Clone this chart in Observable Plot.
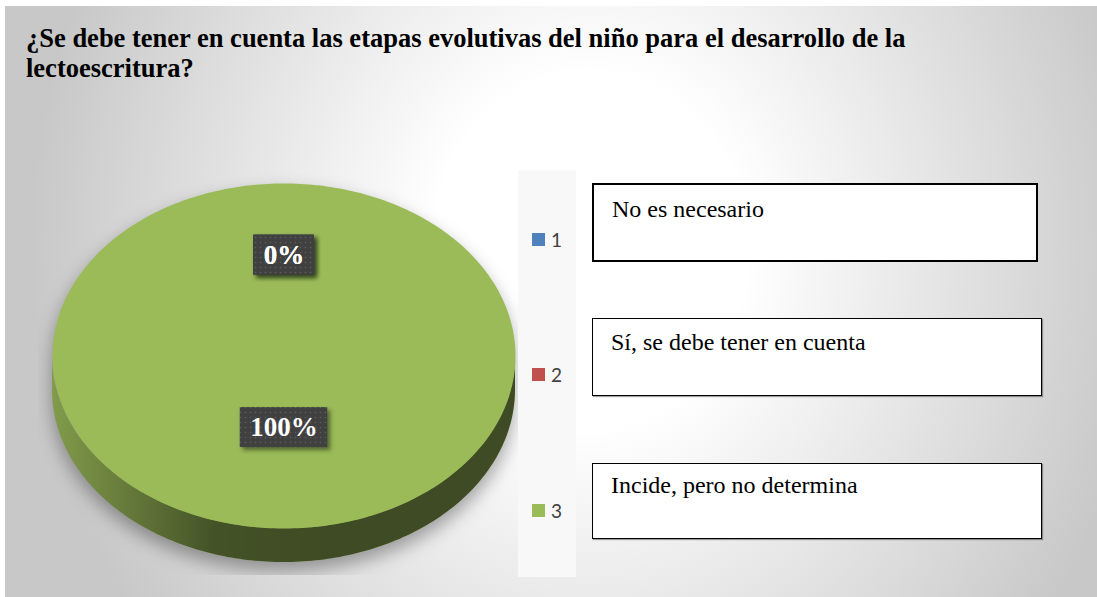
<!DOCTYPE html>
<html>
<head>
<meta charset="utf-8">
<script src="https://cdn.jsdelivr.net/npm/d3@7"></script>
<script src="https://cdn.jsdelivr.net/npm/@observablehq/plot@0.6"></script>
<style>
  html, body { margin: 0; padding: 0; background: #fff; }
  #chart { position: relative; width: 1097px; height: 597px; overflow: hidden; background: #fff; }
  #panel { position: absolute; left: 5px; top: 6px; width: 1092px; height: 591px;
    background: radial-gradient(ellipse 560px 630px at 585px 244px, #ffffff 0%, #ffffff 28%, #c8c8c8 100%); }
  #title { position: absolute; left: 26px; top: 23px; width: 960px; font-family: "Liberation Serif", "Times New Roman", serif;
    font-weight: bold; font-size: 26.5px; line-height: 30px; color: #000; }
  #plot { position: absolute; left: 38px; top: 150px; }
  #legend { position: absolute; left: 518px; top: 170px; width: 58px; height: 407px; background: #f8f8f8; }
  .item { position: absolute; left: 14px; height: 22px; display: flex; align-items: center;
    font-family: Lato, "Open Sans", sans-serif; font-size: 19px; color: #404040; }
  .sw { width: 13px; height: 13px; margin-right: 6px; }
  .box { position: absolute; box-sizing: border-box; background: #fff; font-family: "Liberation Serif", "Times New Roman", serif;
    font-size: 24px; line-height: 24px; color: #000; padding-left: 18px; white-space: nowrap; }
</style>
</head>
<body>
<div id="chart">
  <div id="panel"></div>
  <div id="title"></div>
  <div id="plot"></div>
  <div id="legend"></div>
</div>
<script>
// ---- data ----
const title = "¿Se debe tener en cuenta las etapas evolutivas del niño para el desarrollo de la lectoescritura?";
const categories = ["1", "2", "3"];
const values = [0, 0, 100];
const answers = ["No es necesario", "Sí, se debe tener en cuenta", "Incide, pero no determina"];
const colors = ["#4F81BD", "#C0504D", "#9BBB59"];

// ---- layout / style constants ----
const depth = 0.197;          // pie thickness in radius units
const labelRadius = 0.5;      // label distance from the (perspective) centre
const labelCenterY = -0.085;  // perspective centre of the top face
const boxLayout = [
  {top: 183, w: 446, h: 79, b: 2, pt: 12},
  {top: 318, w: 450, h: 78, b: 1, pt: 11},
  {top: 463, w: 450, h: 76, b: 1, pt: 9}
];

document.getElementById("title").textContent = title;

const data = categories.map((c, i) => ({cat: c, value: values[i]}));
const total = d3.sum(values);
const arcs = d3.pie().sort(null).value(d => d.value)(data);
const step = Math.PI / 180;

// top faces
const topFace = [];
arcs.forEach(a => {
  const cat = a.data.cat;
  const n = Math.max(1, Math.ceil((a.endAngle - a.startAngle) / step));
  topFace.push({cat, x: 0, y: 0});
  for (let k = 0; k <= n; k++) {
    const t = a.startAngle + (a.endAngle - a.startAngle) * k / n;
    topFace.push({cat, x: Math.sin(t), y: -Math.cos(t)});
  }
  topFace.push({cat, x: 0, y: 0});
});

// front walls (visible half: angles PI/2 .. 3PI/2)
const wall = [];
arcs.forEach(a => {
  const s = Math.max(a.startAngle, Math.PI / 2), e = Math.min(a.endAngle, 3 * Math.PI / 2);
  if (e <= s) return;
  const n = Math.max(1, Math.ceil((e - s) / step));
  for (let k = 0; k <= n; k++) {
    const t = s + (e - s) * k / n;
    wall.push({cat: a.data.cat, x: Math.sin(t), y1: -Math.cos(t), y2: -Math.cos(t) + depth});
  }
});
const shade = [];
for (let k = 0; k <= 180; k++) {
  const t = Math.PI / 2 + Math.PI * k / 180;
  shade.push({x: Math.sin(t), y1: -Math.cos(t), y2: -Math.cos(t) + depth});
}
const silhouette = [];
for (let k = 0; k <= 200; k++) {
  const x = -1 + 2 * k / 200;
  const h = Math.sqrt(Math.max(0, 1 - x * x));
  silhouette.push({x, y1: -h, y2: h + depth});
}

const pct = d3.format(".0%");
const labels = arcs.map(a => {
  const m = (a.startAngle + a.endAngle) / 2;
  return {cat: a.data.cat, label: pct(total ? a.data.value / total : 0),
    x: labelRadius * Math.sin(m), y: labelCenterY - labelRadius * Math.cos(m)};
});

const plot = Plot.plot({
  width: 492, height: 425, margin: 0,
  style: {background: "transparent", overflow: "visible"},
  x: {domain: [-1, 1], range: [14, 477], axis: null},
  y: {domain: [-1, 1 + depth], range: [33, 412], axis: null},
  color: {domain: categories, range: colors},
  marks: [
    Plot.areaY(silhouette, {x: "x", y1: "y1", y2: "y2", fill: "#000", fillOpacity: 0.34, dy: 9, clip: true}),
    Plot.areaY(wall, {x: "x", y1: "y1", y2: "y2", z: "cat", fill: "cat"}),
    Plot.areaY(shade, {x: "x", y1: "y1", y2: "y2", fill: "url(#wallShade)"}),
    Plot.line(topFace, {x: "x", y: "y", z: "cat", fill: "cat", stroke: "none", curve: "linear"}),
    Plot.text(labels, {x: "x", y: "y", text: "label", fill: "white", fontFamily: "Liberation Serif, Times New Roman, serif",
      fontWeight: "bold", fontSize: 27})
  ]
});
document.getElementById("plot").appendChild(plot);

// defs: gradients, pattern, filters
const svg = d3.select(plot);
const defs = svg.insert("defs", ":first-child");
const lg = defs.append("linearGradient").attr("id", "wallShade").attr("x1", 0).attr("x2", 1).attr("y1", 0).attr("y2", 0);
[[0, 0.17], [0.12, 0.3], [0.35, 0.56], [0.6, 0.6], [1, 0.6]].forEach(([o, a]) =>
  lg.append("stop").attr("offset", o).attr("stop-color", "#000").attr("stop-opacity", a));
const blur = defs.append("filter").attr("id", "softBlur").attr("x", "-20%").attr("y", "-20%").attr("width", "140%").attr("height", "140%");
blur.append("feGaussianBlur").attr("stdDeviation", 9);
const ds = defs.append("filter").attr("id", "dropShadow").attr("x", "-20%").attr("y", "-30%").attr("width", "150%").attr("height", "170%");
ds.append("feDropShadow").attr("dx", 3).attr("dy", 3).attr("stdDeviation", 2).attr("flood-color", "#1e2a0a").attr("flood-opacity", 0.6);
const pat = defs.append("pattern").attr("id", "dots").attr("patternUnits", "userSpaceOnUse").attr("width", 5).attr("height", 5);
pat.append("rect").attr("width", 5).attr("height", 5).attr("fill", "#3f3f3f");
pat.append("circle").attr("cx", 2.5).attr("cy", 2.5).attr("r", 0.8).attr("fill", "#5c5c5c");

const areaGroups = plot.querySelectorAll('g[aria-label="area"]');
if (areaGroups.length) areaGroups[0].setAttribute("filter", "url(#softBlur)");

// label boxes behind the percentage texts
const sx = plot.scale("x"), sy = plot.scale("y");
const tg = plot.querySelector('g[aria-label="text"]');
if (tg) {
  const bg = document.createElementNS("http://www.w3.org/2000/svg", "g");
  tg.parentNode.insertBefore(bg, tg);
  const texts = tg.querySelectorAll("text");
  texts.forEach((t, i) => {
    const d = labels[i];
    const w = t.getBBox().width + 20;
    const cx = sx.apply(d.x), cy = sy.apply(d.y);
    d3.select(bg).append("rect").attr("x", cx - w / 2).attr("y", cy - 20).attr("width", w).attr("height", 40)
      .attr("fill", "url(#dots)").attr("filter", "url(#dropShadow)");
  });
}

// legend
const legend = d3.select("#legend");
categories.forEach((c, i) => {
  const it = legend.append("div").attr("class", "item").style("top", (69 + i * 135.5 - 11) + "px");
  it.append("div").attr("class", "sw").style("background", colors[i]);
  it.append("span").text(c);
});

// answer boxes
const chart = d3.select("#chart");
answers.forEach((a, i) => {
  const L = boxLayout[i];
  chart.append("div").attr("class", "box")
    .style("left", "592px").style("top", L.top + "px").style("width", L.w + "px").style("height", L.h + "px")
    .style("border", L.b + "px solid #000").style("padding-top", L.pt + "px")
    .style("box-shadow", L.b === 1 ? "1px 1px 1px rgba(0,0,0,0.35)" : "none")
    .text(a);
});
</script>
</body>
</html>
